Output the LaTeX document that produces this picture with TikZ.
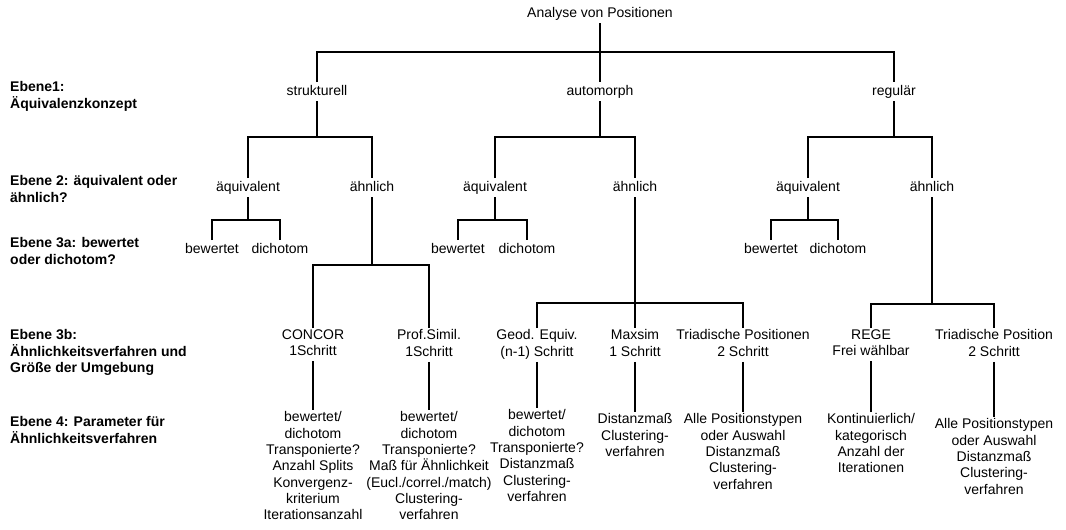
\documentclass[tikz,border=0pt]{standalone}
\usepackage{fontspec}
\setmainfont{Liberation Sans}
% fixed line box so that every text block has predictable top and bottom
\newcommand\kstrut{\rule[-4pt]{0pt}{16pt}}
\begin{document}
\begin{tikzpicture}[x=1pt,y=-1pt,
  lbl/.style={font=\fontsize{14}{16.3}\selectfont, align=center, anchor=north,
    inner xsep=1pt, inner ysep=1.5pt,
    execute at begin node=\kstrut, execute at end node=\kstrut},
  lvl/.style={font=\fontsize{14}{16.5}\selectfont\bfseries, align=left, anchor=north west,
    inner xsep=0pt, inner ysep=1.5pt,
    execute at begin node=\kstrut, execute at end node=\kstrut},
  tline/.style={line width=2.6pt}
]
\useasboundingbox[fill=white] (0,0) rectangle (1066,530);

% level captions on the left
\node[lvl] (e1)  at (10,80)  {Ebene1:\\Äquivalenzkonzept};
\node[lvl] (e2)  at (10,174) {Ebene 2: äquivalent oder\\ähnlich?};
\node[lvl] (e3a) at (10,236) {Ebene 3a: bewertet\\oder dichotom?};
\node[lvl] (e3b) at (10,328) {Ebene 3b:\\Ähnlichkeitsverfahren und\\Größe der Umgebung};
\node[lvl] (e4)  at (10,415) {Ebene 4: Parameter für\\Ähnlichkeitsverfahren};

% root and level 1
\node[lbl] (root)  at (600,4)  {Analyse von Positionen};
\node[lbl] (struk) at (317,82) {strukturell};
\node[lbl] (auto)  at (600,82) {automorph};
\node[lbl] (reg)   at (894,82) {regulär};

% level 2
\node[lbl] (aeq1) at (248,178) {äquivalent};
\node[lbl] (aeh1) at (372,178) {ähnlich};
\node[lbl] (aeq2) at (495,178) {äquivalent};
\node[lbl] (aeh2) at (635,178) {ähnlich};
\node[lbl] (aeq3) at (808,178) {äquivalent};
\node[lbl] (aeh3) at (932,178) {ähnlich};

% level 3a
\node[lbl] (bew1)  at (212,240) {bewertet};
\node[lbl] (dich1) at (280,240) {dichotom};
\node[lbl] (bew2)  at (458,240) {bewertet};
\node[lbl] (dich2) at (527,240) {dichotom};
\node[lbl] (bew3)  at (771,240) {bewertet};
\node[lbl] (dich3) at (838,240) {dichotom};

% level 3b
\node[lbl] (concor) at (313,328) {CONCOR\\1Schritt};
\node[lbl] (prof)   at (429,328) {Prof.Simil.\\1Schritt};
\node[lbl] (geod)   at (537,328) {Geod. Equiv.\\(n-1) Schritt};
\node[lbl] (maxsim) at (635,328) {Maxsim\\1 Schritt};
\node[lbl] (tri1)   at (743,328) {Triadische Positionen\\2 Schritt};
\node[lbl] (rege)   at (871,328) {REGE\\Frei wählbar};
\node[lbl] (tri2)   at (994,328) {Triadische Position\\2 Schritt};

% level 4
\node[lbl] (p1) at (313,410) {bewertet/\\dichotom\\Transponierte?\\Anzahl Splits\\Konvergenz-\\kriterium\\Iterationsanzahl};
\node[lbl] (p2) at (429,410) {bewertet/\\dichotom\\Transponierte?\\Maß für Ähnlichkeit\\(Eucl./correl./match)\\Clustering-\\verfahren};
\node[lbl] (p3) at (537,408) {bewertet/\\dichotom\\Transponierte?\\Distanzmaß\\Clustering-\\verfahren};
\node[lbl] (p4) at (635,412) {Distanzmaß\\Clustering-\\verfahren};
\node[lbl] (p5) at (743,412) {Alle Positionstypen\\oder Auswahl\\Distanzmaß\\Clustering-\\verfahren};
\node[lbl] (p6) at (871,412) {Kontinuierlich/\\kategorisch\\Anzahl der\\Iterationen};
\node[lbl] (p7) at (994,417) {Alle Positionstypen\\oder Auswahl\\Distanzmaß\\Clustering-\\verfahren};

% branching points
\coordinate (j0) at (600,52);
\coordinate (j1) at (317,137);
\coordinate (j2) at (600,137);
\coordinate (j3) at (894,137);
\coordinate (k1) at (248,220);
\coordinate (k2) at (495,220);
\coordinate (k3) at (808,220);
\coordinate (m1) at (372,265);
\coordinate (m2) at (635,303);
\coordinate (m3) at (932,304);

% tree connectors
\draw[tline] (root) -- (auto);
\draw[tline] (struk.north) |- (j0) -| (reg.north);

\draw[tline] (struk) -- (j1);
\draw[tline] (aeq1.north) |- (j1) -| (aeh1.north);
\draw[tline] (auto) -- (j2);
\draw[tline] (aeq2.north) |- (j2) -| (aeh2.north);
\draw[tline] (reg) -- (j3);
\draw[tline] (aeq3.north) |- (j3) -| (aeh3.north);

\draw[tline] (aeq1) -- (k1);
\draw[tline] (bew1.north) |- (k1) -| (dich1.north);
\draw[tline] (aeq2) -- (k2);
\draw[tline] (bew2.north) |- (k2) -| (dich2.north);
\draw[tline] (aeq3) -- (k3);
\draw[tline] (bew3.north) |- (k3) -| (dich3.north);

\draw[tline] (aeh1) -- (m1);
\draw[tline] (concor.north) |- (m1) -| (prof.north);
\draw[tline] (aeh2) -- (maxsim);
\draw[tline] (geod.north) |- (m2) -| (tri1.north);
\draw[tline] (aeh3) -- (m3);
\draw[tline] (rege.north) |- (m3) -| (tri2.north);

\draw[tline] (concor) -- (p1);
\draw[tline] (prof) -- (p2);
\draw[tline] (geod) -- (p3);
\draw[tline] (maxsim) -- (p4);
\draw[tline] (tri1) -- (p5);
\draw[tline] (rege) -- (p6);
\draw[tline] (tri2) -- (p7);
\end{tikzpicture}
\end{document}
